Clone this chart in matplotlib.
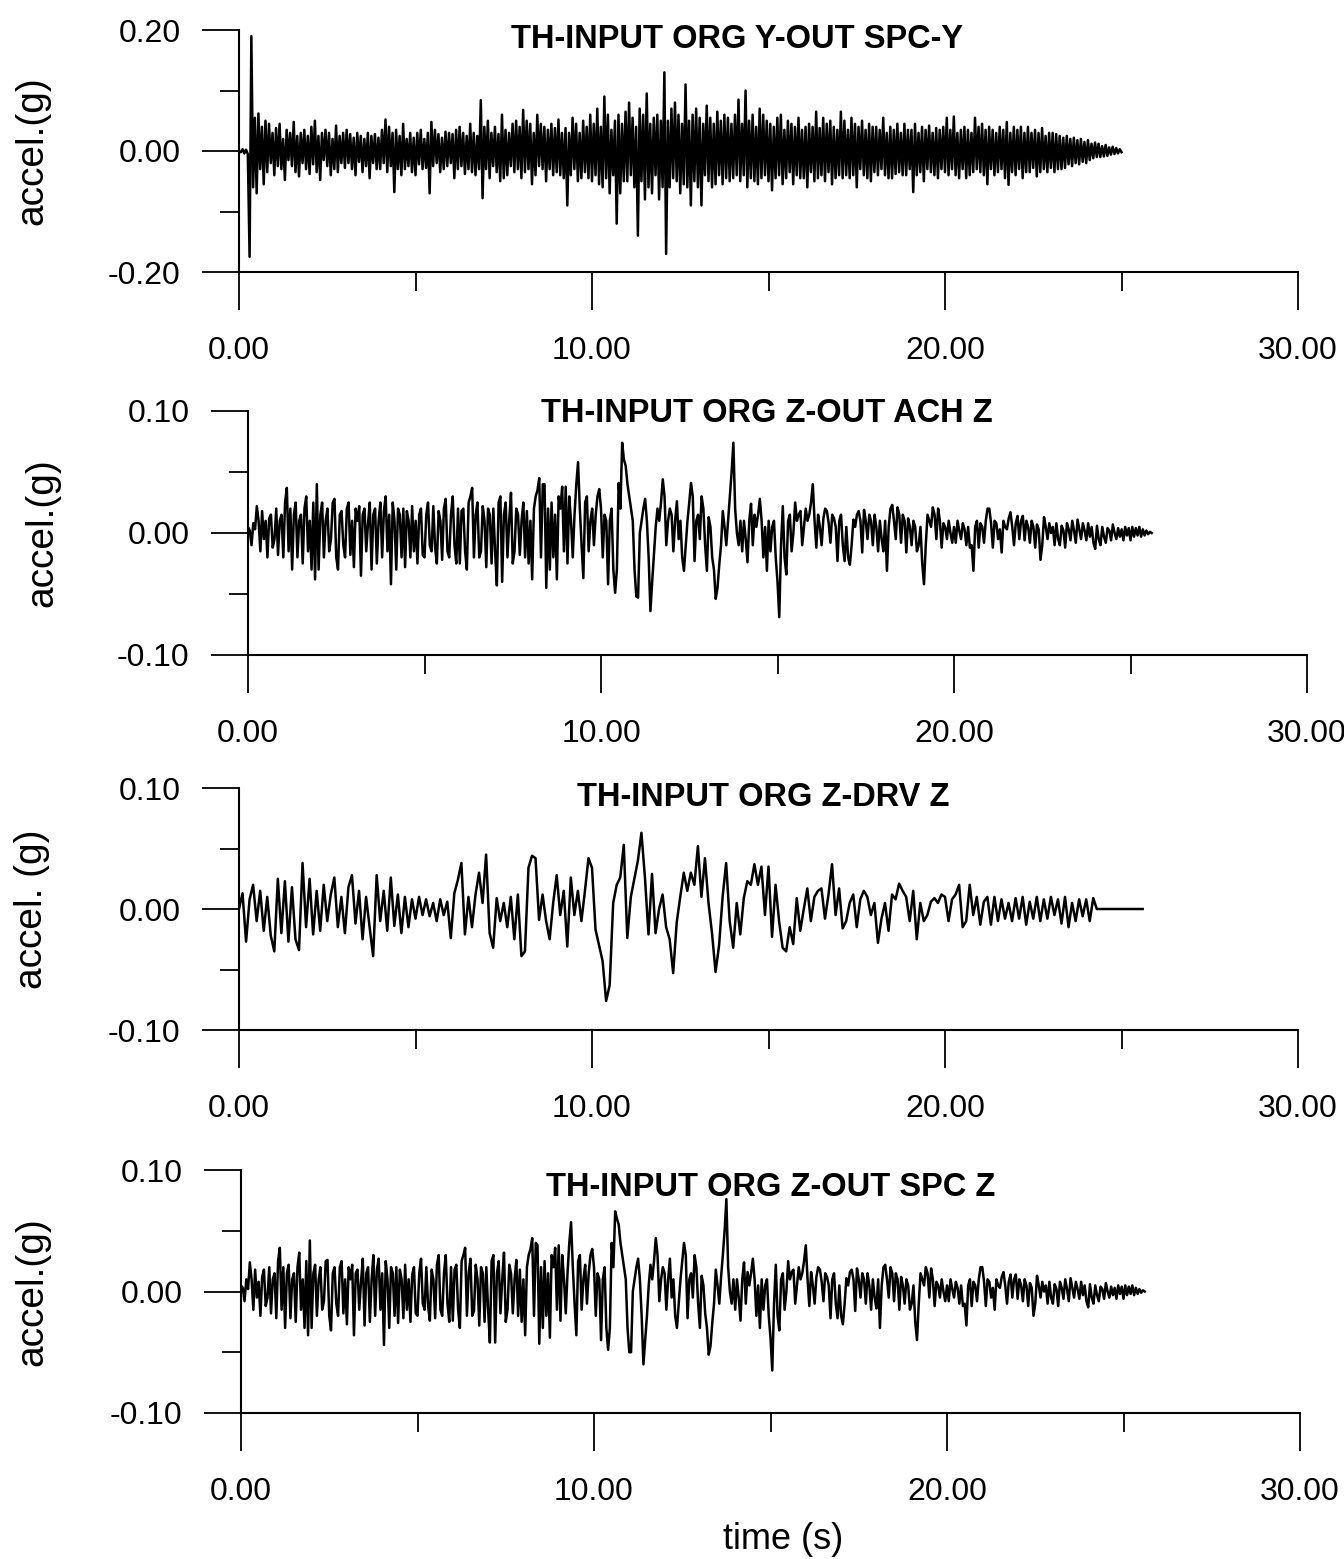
"""
historias de aceleracion (4 paneles)
"""

import numpy as np
import matplotlib
matplotlib.use("Agg")
import matplotlib.pyplot as plt
from matplotlib.ticker import MultipleLocator, FormatStrFormatter

plt.rcParams['font.family'] = ['Liberation Sans', 'DejaVu Sans']
plt.rcParams['axes.unicode_minus'] = False

titulos = ['TH-INPUT ORG Y-OUT SPC-Y', 'TH-INPUT ORG Z-OUT ACH Z',
           'TH-INPUT ORG Z-DRV Z', 'TH-INPUT ORG Z-OUT SPC Z']
etiquetas_y = ['accel.(g)', 'accel.(g)', 'accel. (g)', 'accel.(g)']
limites_y = [0.20, 0.10, 0.10, 0.10]
ticks_x = [0, 10, 20, 30]

# paso de tiempo de cada registro (s); valores en milesimas de g
pasos = [0.05, 0.05, 0.1, 0.05]

acc_y_spc = [
    0, -2, 3, -4, 2, -5, -175, 190, -60, 55, -70, 62, -30, 40, -55, 50, -35, 45, -20, 30,
    -40, 38, -25, 45, -30, 20, -48, 35, -15, 30, -25, 48, -35, 25, -42, 30, -20, 35, -30, 25,
    -38, 40, -22, 50, -35, 25, -48, 30, -15, 35, -25, 30, -40, 20, -30, 42, -35, 25, -20, 30,
    -28, 35, -20, 28, -30, 22, -40, 30, -18, 25, -35, 20, -25, 30, -45, 25, -20, 28, -30, 22,
    -30, 35, -20, 52, -35, 40, -25, 30, -68, 35, -30, 25, -40, 45, -30, 20, -25, 30, -35, 22,
    -40, 30, -22, 35, -30, 20, -28, 30, -70, 48, -25, 35, -20, 28, -35, 22, -30, 32, -25, 30,
    -20, 28, -45, 35, -30, 40, -25, 30, -38, 25, -30, 45, -35, 30, -40, 25, -30, 84, -78, 40,
    -30, 50, -45, 30, -25, 40, -35, 28, -50, 60, -45, 35, -40, 30, -25, 45, -35, 50, -30, 40,
    -45, 68, -35, 50, -30, 45, -55, 30, -40, 60, -25, 45, -30, 40, -50, 35, -30, 45, -40, 38,
    -35, 52, -40, 30, -45, 38, -90, 30, -40, 55, -30, 45, -50, 30, -45, 50, -35, 40, -45, 60,
    -50, 45, -40, 70, -55, 40, -60, 90, -45, 60, -70, 35, -40, 50, -120, 60, -70, 45, -50, 65,
    -50, 80, -40, 55, -60, 40, -140, 70, -50, 60, -80, 95, -60, 45, -70, 55, -40, 60, -80, 50,
    -60, 130, -170, 50, -60, 70, -45, 80, -50, 60, -70, 45, -55, 110, -60, 50, -90, 60, -50, 70,
    -60, 55, -90, 45, -40, 75, -50, 55, -60, 45, -55, 65, -40, 50, -55, 60, -45, 55, -50, 45,
    -45, 60, -40, 85, -50, 45, -40, 100, -60, 50, -45, 60, -50, 40, -55, 70, -45, 60, -40, 50,
    -50, 45, -65, 40, -45, 55, -40, 60, -55, 35, -45, 50, -35, 45, -55, 40, -40, 55, -45, 35,
    -45, 40, -60, 45, -35, 40, -50, 65, -45, 38, -40, 55, -50, 45, -35, 50, -55, 40, -45, 35,
    -40, 65, -45, 50, -40, 35, -45, 55, -40, 45, -60, 40, -30, 50, -40, 35, -45, 45, -50, 40,
    -35, 40, -40, 35, -30, 55, -40, 30, -45, 40, -45, 35, -38, 45, -35, 30, -40, 45, -40, 35,
    -30, 35, -68, 45, -40, 30, -35, 40, -50, 35, -30, 42, -35, 30, -40, 38, -45, 35, -30, 40,
    -35, 55, -40, 35, -30, 57, -40, 30, -45, 35, -30, 40, -45, 35, -40, 30, -35, 55, -30, 40,
    -35, 45, -40, 35, -55, 40, -30, 35, -40, 30, -35, 40, -30, 35, -45, 48, -56, 30, -35, 40,
    -40, 35, -30, 40, -45, 30, -35, 40, -35, 30, -28, 35, -42, 30, -35, 38, -30, 25, -35, 30,
    -28, 30, -35, 28, -30, 25, -30, 22, -28, 25, -22, 20, -25, 22, -20, 18, -22, 20, -18, 15,
    -20, 18, -15, 12, -12, 14, -10, 12, -10, 8, -9, 10, -8, 6, -6, 7, -5, 5, -4, 3,
    -2,
]

acc_z_ach = [
    5, 2, -10, 8, 3, 22, 10, -15, 18, -5, 10, -20, 12, 15, -12, -5, 20, -18, 10, 15,
    -20, 25, 37, -15, 20, -30, 15, 25, -20, 10, 15, -25, 20, 30, -15, 10, -30, 25, -38, 40,
    -30, 15, 25, -20, 10, 20, -15, -5, 25, 28, -20, -30, 15, 18, -10, -20, 20, 25, -18, 10,
    -28, 20, 10, 22, -35, 15, 20, -15, 8, 25, -30, 15, 20, -25, 10, 25, -20, 18, 30, -15,
    15, -42, 25, 10, -30, 20, 15, -20, 20, -28, 18, 10, -20, 22, -15, 10, -25, 15, 20, -18,
    -20, 15, 25, -10, -15, 22, -12, -25, 18, 10, -22, 20, 28, -15, -20, 15, 30, -10, -25, 20,
    -25, 18, 20, -15, -30, 25, 30, 37, -20, 15, 25, -20, -15, 22, 10, -28, 20, 15, -25, 20,
    -15, -43, 25, 30, -40, 15, 25, -20, 10, 33, -25, -15, 20, 15, -18, 10, 25, -20, 18, -25,
    10, -38, 20, 30, 35, 45, -20, 40, 40, -45, 20, -30, 25, -20, 15, -38, 30, 20, 38, -15,
    38, -25, 30, 10, -20, 15, 40, 58, 20, -10, -37, 25, 30, -15, 10, 20, -10, 15, 30, 36,
    20, -20, 15, 10, -42, 10, 20, -30, -49, -30, 41, 20, 74, 60, 55, 40, 30, 20, 10, -30,
    -52, -53, 0, 10, 20, 28, 10, -20, -64, -40, -18, 5, 20, 10, 25, 44, 30, -10, 10, 20,
    15, -15, 10, 26, -5, 10, -20, -31, -10, 10, 25, 41, 30, -23, 10, 15, -5, 30, 20, -10,
    -31, 13, 5, -20, -30, -54, -45, -26, -10, 18, 5, -10, 10, 30, 50, 74, 20, 0, -10, 10,
    -15, 10, -5, -24, 10, 24, -10, 15, 5, 15, 28, 10, -20, 5, -31, 10, -15, 5, 10, -20,
    -40, -69, -10, 22, -20, -34, 10, 15, -15, 0, 25, 10, 15, 18, -10, 5, 20, 10, 15, 25,
    40, 10, -12, 15, 5, -10, 12, 20, 18, 8, -8, 15, 12, 5, -23, 10, 15, -10, -23, 5,
    -20, -26, -10, 11, 5, 15, 18, 10, -16, 19, 10, -5, 15, 10, -10, 15, 5, -15, 10, -5,
    -15, 10, -31, 5, 20, 23, 10, -5, 21, 15, -8, 15, 10, -16, 12, 5, -10, 10, 5, -15,
    -10, 5, -25, -42, -10, 15, 10, 5, 21, 15, -5, 20, 10, -12, 8, 5, -5, 10, 0, -8,
    5, -8, 10, 2, -5, 8, 3, -10, 5, -12, -10, -31, 5, 10, -12, 8, 5, -8, 10, 20,
    20, 8, -12, 10, 8, -5, 3, -16, 10, 5, 3, 12, 17, 5, -10, 8, 14, -5, 10, 14,
    -6, 10, 5, -8, 10, 5, -12, 7, 3, -22, -10, 13, 5, -5, 8, 0, 5, -10, 8, -5,
    -10, 6, 2, -12, 8, 3, -6, 10, 2, -8, 11, 3, -5, 8, 2, -6, 8, -3, 5, -8,
    -13, 6, -5, -10, 5, -3, -8, 4, 2, -6, 7, 0, -5, 4, -3, 3, -6, 5, -2, 4,
    -6, 5, -3, 4, -2, 5, -3, 3, -2, 2, -1, 1, 0,
]

acc_z_drv = [
    0, 13, -27, 8, 20, -10, 15, -18, 10, -22,
    -35, 25, -20, 23, -27, 18, -25, -34, 38, -15,
    25, -21, 15, -18, 20, -10, 12, 26, -15, 10,
    -20, 18, 28, -12, 15, -25, 10, -15, -39, 28,
    -10, 15, -18, 26, -14, 12, -20, 10, -15, 8,
    -8, 10, -5, 8, -6, 5, -10, 8, -5, 6,
    -24, 13, 24, 38, -21, 10, -15, 12, 30, 5,
    45, -20, -32, 9, -10, 5, -15, 10, -25, 12,
    -39, -35, 34, 44, 42, -9, 12, -10, -25, 5,
    28, -5, 15, -31, 26, -5, 15, -10, 15, 42,
    34, -17, -30, -43, -76, -63, 5, 20, 26, 53,
    -24, 10, 25, 40, 63, 26, -21, 29, -20, 0,
    12, -15, -25, -53, -11, 10, 30, 15, 30, 20,
    52, 10, 42, 5, -20, -52, -30, 10, 38, -10,
    -32, 5, -21, 9, 23, 20, 37, 20, 35, -5,
    35, -23, 20, -10, -32, -35, -15, -29, 9, -18,
    0, 17, -10, 10, 15, 17, -8, 12, 37, -5,
    17, -16, -10, 5, 12, -15, 8, 15, 10, -5,
    5, -28, -8, 5, -18, 12, 8, 21, 15, 10,
    -10, 15, -25, 5, -10, -5, 6, 9, 5, 12,
    10, -10, 8, 12, 20, -15, -10, 20, -5, 10,
    -13, 6, 10, -13, 10, -10, 8, -8, 5, -10,
    9, -8, 10, -13, 6, -8, 10, -10, 8, -8,
    10, -5, 8, -12, 10, -15, 5, -10, 8, -6,
    8, -10, 9, 0, 0, 0, 0, 0, 0, 0,
    0, 0, 0, 0, 0, 0, 0,
]

acc_z_spc = [
    5, 3, -8, 10, 2, 24, 10, -15, 18, -5, 8, -20, 12, 18, -12, -5, 20, -18, 10, 15,
    -22, 25, 36, -15, 20, -30, 15, 22, -22, 10, 15, -25, 20, 32, -15, 10, -30, 25, -36, 42,
    -30, 15, 22, -20, 10, 20, -15, -8, 25, 26, -20, -32, 15, 20, -10, -20, 20, 25, -18, 10,
    -27, 20, 10, 22, -36, 15, 18, -15, 8, 27, -28, 15, 20, -25, 10, 30, -20, 18, 27, -15,
    15, -44, 25, 10, -30, 20, 15, -20, 20, -26, 18, 10, -22, 22, -15, 10, -25, 14, 20, -18,
    -20, 15, 27, -10, -15, 20, -12, -24, 18, 10, -22, 22, 30, -15, -20, 15, 30, -10, -25, 20,
    -24, 18, 22, -15, -30, 25, 30, 36, -20, 15, 27, -20, -16, 22, 10, -28, 20, 15, -25, 20,
    -15, -42, 25, 30, -42, 15, 25, -18, 10, 32, -25, -15, 22, 15, -18, 10, 26, -20, 18, -25,
    10, -36, 20, 30, 35, 44, -20, 40, 38, -43, 20, -30, 25, -20, 15, -38, 30, 20, 36, -15,
    38, -24, 30, 10, -18, 15, 40, 57, 20, -10, -36, 25, 30, -15, 10, 22, -10, 15, 30, 35,
    20, -20, 15, 10, -40, 10, 20, -30, -48, -30, 40, 20, 66, 60, 55, 40, 30, 20, 10, -30,
    -50, -50, 0, 10, 20, 27, 10, -20, -60, -40, -20, 5, 22, 10, 25, 44, 30, -8, 10, 20,
    15, -15, 10, 27, -5, 10, -20, -30, -10, 10, 25, 40, 30, -22, 10, 15, -5, 30, 20, -10,
    -30, 13, 5, -18, -30, -52, -45, -26, -10, 18, 5, -10, 12, 30, 50, 76, 20, 0, -10, 10,
    -15, 10, -5, -24, 10, 24, -10, 16, 5, 15, 27, 10, -20, 5, -30, 10, -15, 5, 10, -20,
    -38, -65, -10, 22, -20, -32, 10, 15, -15, 0, 25, 10, 16, 18, -10, 5, 20, 10, 15, 25,
    38, 10, -12, 16, 5, -10, 12, 20, 18, 8, -8, 15, 12, 5, -22, 10, 15, -10, -22, 5,
    -20, -27, -10, 11, 5, 16, 18, 10, -16, 19, 10, -5, 15, 10, -10, 15, 5, -15, 10, -5,
    -14, 10, -30, 5, 20, 22, 10, -5, 20, 15, -8, 15, 10, -15, 12, 5, -10, 10, 5, -15,
    -10, 5, -25, -40, -10, 15, 10, 5, 20, 15, -5, 19, 10, -12, 8, 5, -5, 10, 0, -8,
    5, -8, 10, 2, -5, 8, 3, -10, 5, -12, -10, -28, 5, 10, -12, 8, 5, -8, 10, 20,
    20, 8, -12, 10, 8, -5, 3, -15, 10, 5, 3, 12, 16, 5, -10, 8, 14, -5, 10, 14,
    -6, 10, 5, -8, 10, 5, -12, 7, 3, -20, -10, 13, 5, -5, 8, 0, 5, -10, 8, -5,
    -10, 6, 2, -12, 8, 3, -6, 10, 2, -8, 11, 3, -5, 8, 2, -6, 8, -3, 5, -8,
    -13, 6, -5, -10, 5, -3, -8, 4, 2, -6, 7, 0, -5, 4, -3, 3, -6, 5, -2, 4,
    -6, 5, -3, 4, -2, 5, -3, 3, -2, 2, -1, 1, 0,
]

registros = [acc_y_spc, acc_z_ach, acc_z_drv, acc_z_spc]

# posiciones de los ejes en pixeles (izq, der, arriba, abajo) de la imagen 1344x1559
W, H = 1344, 1559
cajas = [(239, 1298, 30, 272), (248, 1307, 411, 655),
         (239, 1298, 788, 1030), (241, 1300, 1170, 1413)]
pos_titulo = [(0.470, 0.959), (0.490, 0.990), (0.495, 0.959), (0.500, 0.930)]
pos_ylabel_px = [50, 60, 50, 50]

fig = plt.figure(figsize=(W / 100, H / 100), dpi=100)

for i in range(4):
    x0, x1, y0, y1 = cajas[i]
    ax = fig.add_axes([x0 / W, 1 - y1 / H, (x1 - x0) / W, (y1 - y0) / H])

    acc = np.array(registros[i]) / 1000.0
    t = np.arange(len(acc)) * pasos[i]
    ax.plot(t, acc, color='black', lw=1.8)

    ax.set_xlim(0, 30)
    ax.set_ylim(-limites_y[i], limites_y[i])

    ax.spines['top'].set_visible(False)
    ax.spines['right'].set_visible(False)
    ax.spines['left'].set_linewidth(1.5)
    ax.spines['bottom'].set_linewidth(1.5)

    ax.set_xticks(ticks_x)
    ax.xaxis.set_minor_locator(MultipleLocator(5))
    ax.set_yticks([-limites_y[i], 0, limites_y[i]])
    ax.yaxis.set_minor_locator(MultipleLocator(limites_y[i] / 2))
    ax.xaxis.set_major_formatter(FormatStrFormatter('%.2f'))
    ax.yaxis.set_major_formatter(FormatStrFormatter('%.2f'))

    ax.tick_params(axis='both', which='major', direction='out', length=27,
                   width=1.3, labelsize=23)
    ax.tick_params(axis='both', which='minor', direction='out', length=14,
                   width=1.3)
    ax.tick_params(axis='x', which='major', pad=19)
    ax.tick_params(axis='y', which='major', pad=15)

    ax.text(pos_titulo[i][0], pos_titulo[i][1], titulos[i], transform=ax.transAxes,
            ha='center', va='center', fontsize=23.5, fontweight='bold')

    ax.set_ylabel(etiquetas_y[i], fontsize=28)
    ax.yaxis.set_label_coords((pos_ylabel_px[i] - x0) / (x1 - x0), 0.5)

    if i == 3:
        ax.set_xlabel('time (s)', fontsize=26)
        ax.xaxis.set_label_coords((783 - x0) / (x1 - x0), (y1 - 1522) / (y1 - y0))

fig.savefig('out.png', dpi=100)
